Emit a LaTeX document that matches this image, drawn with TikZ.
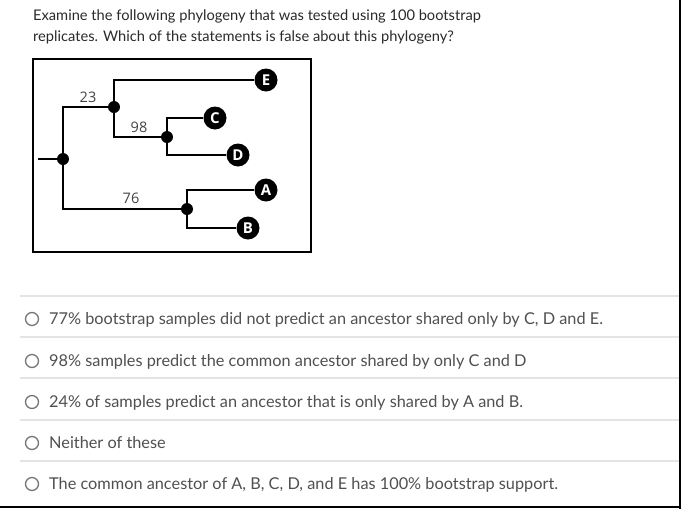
\documentclass[tikz,border=0pt]{standalone}
\usepackage{fontspec}
\setmainfont{Lato}
\newfontfamily\treefont{Open Sans}
\usetikzlibrary{positioning}
\definecolor{titlecol}{HTML}{2A2A2A}
\definecolor{anscol}{HTML}{505050}
\definecolor{sepcol}{HTML}{E4E4E4}
\definecolor{radiocol}{HTML}{777777}
\definecolor{labcol}{HTML}{444444}
\tikzset{
  titletext/.style={anchor=base west, inner sep=0pt, text=titlecol, font=\fontsize{14.65}{17}\selectfont},
  anstext/.style={anchor=base west, inner sep=0pt, text=anscol, font=\fontsize{16.3}{19}\selectfont},
  radio/.style={circle, draw=radiocol, line width=1.3pt, minimum size=13pt, inner sep=0pt},
  sepline/.style={draw=sepcol, line width=1.5pt},
  innode/.style={circle, fill=black, minimum size=12pt, inner sep=0pt},
  leaf/.style={circle, fill=black, minimum size=23pt, inner sep=0pt, text=white, font=\treefont\bfseries\fontsize{15}{15}\selectfont},
  thickbr/.style={line width=2.4pt, line join=miter},
  thinbr/.style={line width=1.4pt, line join=miter},
  bslabel/.style={inner sep=0pt, text=labcol, font=\treefont\fontsize{14.5}{14.5}\selectfont},
}
\begin{document}
\begin{tikzpicture}[x=1pt, y=-1pt]
\useasboundingbox (0,0) rectangle (681,509);
\fill[white] (0,0) rectangle (681,509);
% title
\node[titletext] (t1) at (33,20) {Examine the following phylogeny that was tested using 100 bootstrap};
\node[titletext] (t2) at (33,41.5) {replicates. Which of the statements is false about this phylogeny?};
% frame
\draw[line width=2pt] (33,59) rectangle (311,252);
% tree nodes
\coordinate (stub) at (38,159);
\node[innode] (root) at (63,159) {};
\node[innode] (n23) at (114,107) {};
\node[innode] (n98) at (167,137) {};
\node[innode] (n76) at (187,209) {};
\node[leaf] (E) at (266,80) {E};
\node[leaf] (C) at (215,118) {C};
\node[leaf] (D) at (238,155) {D};
\node[leaf] (A) at (266,190) {A};
\node[leaf] (B) at (248,228) {B};
% branches
\draw[thinbr] (stub) -- (root);
\draw[thickbr] (root) |- (n23);
\draw[thickbr] (root) |- (n76);
\draw[thickbr] (n23) |- (E);
\draw[thinbr] (n23) |- (n98);
\draw[thinbr] (n98) |- (C);
\draw[thinbr] (n98) |- (D);
\draw[thickbr] (n76) |- (A);
\draw[thinbr] (n76) |- (B);
% bootstrap labels
\node[bslabel] (l23) at (88,97) {23};
\node[bslabel] (l98) at (139,127) {98};
\node[bslabel] (l76) at (131,198) {76};
% separators
\foreach \y in {296,337,378,420,461} \draw[sepline] (20,\y) -- (679,\y);
% answers
\node[radio] (r1) at (32,319) {};
\node[radio] (r2) at (32,361) {};
\node[radio] (r3) at (32,402) {};
\node[radio] (r4) at (32,443) {};
\node[radio] (r5) at (32,484) {};
\node[anstext] (a1) at (49,324.5) {77\% bootstrap samples did not predict an ancestor shared only by C, D and E.};
\node[anstext] (a2) at (49,366.5) {98\% samples predict the common ancestor shared by only C and D};
\node[anstext] (a3) at (49,407.5) {24\% of samples predict an ancestor that is only shared by A and B.};
\node[anstext] (a4) at (49,448.5) {Neither of these};
\node[anstext] (a5) at (49,489.5) {The common ancestor of A, B, C, D, and E has 100\% bootstrap support.};
% page edges
\draw[line width=2pt] (0,507) -- (681,507);
\draw[line width=2pt] (680,0) -- (680,509);
\end{tikzpicture}
\end{document}
